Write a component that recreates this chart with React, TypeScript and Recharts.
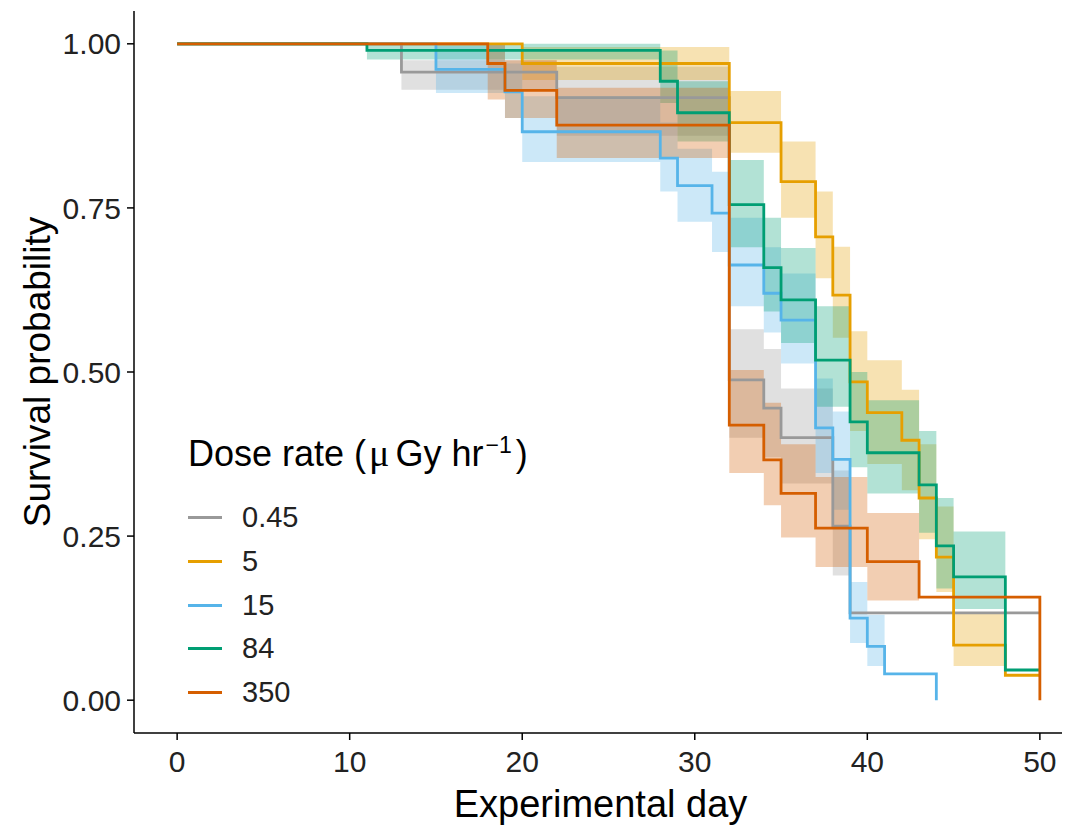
import React from 'react';
import { ComposedChart, Line, Area, XAxis, YAxis, Legend } from 'recharts';

const FONT = '"Liberation Sans", Arial, sans-serif';

const doseRates = ['0.45', '5', '15', '84', '350'];
const doseColors = ['#999999', '#E69F00', '#56B4E9', '#009E73', '#D55E00'];

const xTicks = [0, 10, 20, 30, 40, 50];
const yTicks = [0, 0.25, 0.5, 0.75, 1];

// survival steps (day the step starts, survival from that day on)
const days045 = [0, 13, 22, 32, 34, 35, 38, 39, 50];
const surv045 = [1, 0.957, 0.918, 0.488, 0.445, 0.4, 0.265, 0.133, 0.133];
const days5 = [0, 20, 32, 35, 37, 38, 39, 40, 42, 43, 44, 45, 48, 50];
const surv5 = [1, 0.97, 0.88, 0.79, 0.706, 0.617, 0.485, 0.438, 0.396, 0.308, 0.218, 0.084, 0.038, 0.038];
const days15 = [0, 15, 19, 20, 28, 29, 31, 32, 34, 35, 37, 38, 39, 40, 41, 44];
const surv15 = [1, 0.961, 0.927, 0.866, 0.826, 0.784, 0.742, 0.663, 0.62, 0.579, 0.415, 0.367, 0.125, 0.082, 0.04, 0];
const days84 = [0, 11, 28, 29, 32, 34, 35, 37, 39, 40, 43, 44, 45, 48, 50];
const surv84 = [1, 0.99, 0.943, 0.895, 0.755, 0.659, 0.61, 0.518, 0.424, 0.377, 0.328, 0.235, 0.188, 0.046, 0.046];
const days350 = [0, 18, 19, 22, 32, 34, 35, 37, 40, 43, 50];
const surv350 = [1, 0.97, 0.929, 0.876, 0.419, 0.366, 0.315, 0.262, 0.211, 0.157, 0];

// confidence bands (last entry closes the final step)
const ciDays045 = [13, 22, 32, 34, 35, 38, 39];
const ciLow045 = [0.93, 0.86, 0.4, 0.37, 0.33, 0.19, 0.19];
const ciHigh045 = [0.975, 0.965, 0.565, 0.535, 0.475, 0.35, 0.35];
const ciDays5 = [20, 32, 35, 37, 38, 39, 40, 42, 43, 44, 45, 48];
const ciLow5 = [0.945, 0.834, 0.735, 0.643, 0.552, 0.41, 0.36, 0.32, 0.245, 0.165, 0.052, 0.052];
const ciHigh5 = [0.995, 0.928, 0.851, 0.775, 0.691, 0.562, 0.518, 0.473, 0.39, 0.295, 0.133, 0.133];
const ciDays15 = [15, 19, 20, 28, 29, 31, 32, 34, 35, 37, 38, 39, 40, 41];
const ciLow15 = [0.925, 0.887, 0.82, 0.775, 0.729, 0.683, 0.6, 0.56, 0.513, 0.346, 0.29, 0.087, 0.052, 0.052];
const ciHigh15 = [1, 0.97, 0.92, 0.88, 0.84, 0.805, 0.735, 0.69, 0.65, 0.49, 0.44, 0.18, 0.13, 0.13];
const ciDays84 = [11, 28, 29, 32, 34, 35, 37, 39, 40, 43, 44, 45, 48];
const ciLow84 = [0.976, 0.91, 0.851, 0.69, 0.592, 0.544, 0.447, 0.355, 0.315, 0.255, 0.17, 0.139, 0.139];
const ciHigh84 = [1, 0.99, 0.943, 0.823, 0.735, 0.689, 0.6, 0.5, 0.457, 0.41, 0.308, 0.257, 0.257];
const ciDays350 = [18, 19, 22, 32, 34, 35, 37, 40, 43];
const ciLow350 = [0.915, 0.887, 0.826, 0.346, 0.297, 0.248, 0.203, 0.152, 0.152];
const ciHigh350 = [1, 0.975, 0.933, 0.503, 0.453, 0.39, 0.34, 0.285, 0.285];

const steps = (days: number[], surv: number[]) => days.map((d, i) => ({ d, s: surv[i] }));
const band = (days: number[], lo: number[], hi: number[]) =>
  days.map((d, i) => ({ d, ci: [lo[i], hi[i]] }));

const series = [
  { line: steps(days045, surv045), ci: band(ciDays045, ciLow045, ciHigh045) },
  { line: steps(days5, surv5), ci: band(ciDays5, ciLow5, ciHigh5) },
  { line: steps(days15, surv15), ci: band(ciDays15, ciLow15, ciHigh15) },
  { line: steps(days84, surv84), ci: band(ciDays84, ciLow84, ciHigh84) },
  { line: steps(days350, surv350), ci: band(ciDays350, ciLow350, ciHigh350) },
];

const renderLegend = () => (
  <div style={{ fontFamily: FONT, color: '#000' }}>
    <div style={{ fontSize: 36, lineHeight: '48px', whiteSpace: 'nowrap' }}>
      Dose rate (
      <span style={{ fontFamily: '"Liberation Serif", serif', fontSize: 38, margin: '0 6px 0 3px' }}>μ</span>
      Gy hr<sup style={{ fontSize: 23, marginLeft: 2 }}>−1</sup>
      <span style={{ marginLeft: 4 }}>)</span>
    </div>
    <div style={{ paddingTop: 18 }}>
      {doseRates.map((r, i) => (
        <div key={r} style={{ display: 'flex', alignItems: 'center', height: 43.7 }}>
          <div style={{ width: 34, height: 3, background: doseColors[i] }} />
          <span style={{ marginLeft: 20, fontSize: 29, color: '#222' }}>{r}</span>
        </div>
      ))}
    </div>
  </div>
);

const YTitle = (props: any) => {
  const vb = props.viewBox;
  const cy = vb.y + vb.height / 2;
  const cx = 29;
  return (
    <text x={cx} y={cy} transform={`rotate(-90 ${cx} ${cy})`} textAnchor="middle"
      dominantBaseline="central" fontSize={37} fontFamily={FONT} fill="#000">
      Survival probability
    </text>
  );
};

const XTitle = (props: any) => {
  const vb = props.viewBox;
  return (
    <text x={vb.x + vb.width / 2 - 8} y={809} textAnchor="middle" fontSize={38} fontFamily={FONT} fill="#000">
      Experimental day
    </text>
  );
};

export default function App() {
  return (
    <div style={{ width: 1062, height: 820, overflow: 'hidden', position: 'relative', fontFamily: FONT }}>
      <ComposedChart width={1100} height={820} margin={{ top: 3, right: 25, left: 0, bottom: 0 }}>
        <XAxis type="number" dataKey="d" domain={[-2.5, 52.5]} ticks={xTicks} allowDataOverflow
          height={95} tickSize={7} tickMargin={11}
          axisLine={{ stroke: '#000', strokeWidth: 1.5 }} tickLine={{ stroke: '#000', strokeWidth: 1.5 }}
          tick={{ fontSize: 30, fill: '#222', fontFamily: FONT }}
          label={{ content: XTitle }} />
        <YAxis type="number" domain={[-0.05, 1.05]} ticks={yTicks} allowDataOverflow width={126}
          tickSize={7} tickMargin={6} tickFormatter={(v: number) => v.toFixed(2)}
          axisLine={{ stroke: '#000', strokeWidth: 1.5 }} tickLine={{ stroke: '#000', strokeWidth: 1.5 }}
          tick={{ fontSize: 30, fill: '#222', fontFamily: FONT }}
          label={{ content: YTitle }} />
        {series.map((sr, i) => (
          <Area key={`ci-${i}`} data={sr.ci} dataKey="ci" type="stepAfter" stroke="none"
            fill={doseColors[i]} fillOpacity={0.3} isAnimationActive={false} activeDot={false} />
        ))}
        {series.map((sr, i) => (
          <Line key={`km-${i}`} data={sr.line} dataKey="s" type="stepAfter" stroke={doseColors[i]}
            strokeWidth={2.8} dot={false} activeDot={false} isAnimationActive={false} />
        ))}
        <Legend content={renderLegend} layout="vertical" align="center" verticalAlign="middle"
          wrapperStyle={{ left: 180, top: 413, width: 460, height: 'auto' }} />
      </ComposedChart>
    </div>
  );
}
